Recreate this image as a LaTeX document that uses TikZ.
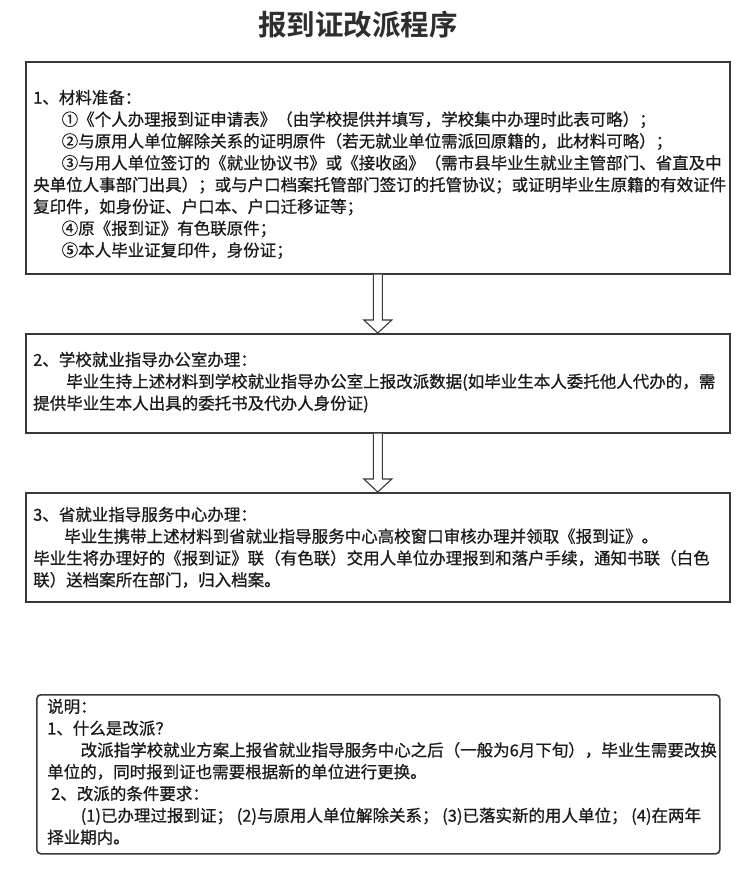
\documentclass[tikz,border=0pt]{standalone}
\usepackage{fontspec}
\setmainfont{Noto Sans CJK SC}[BoldFont={Noto Sans CJK SC Bold},UprightFeatures={FakeBold=0.7}]
\usetikzlibrary{calc}
\definecolor{ink}{HTML}{1A1A1A}
\definecolor{frame}{HTML}{383838}
\definecolor{titlec}{HTML}{2E2E2E}
\tikzset{
  box/.style={draw=frame, line width=1.6bp, fill=white, rectangle, inner sep=0pt},
  txt/.style={anchor=north west, inner sep=0pt, align=left, text=ink,
              font=\fontsize{16.5bp}{21.8bp}\selectfont},
  hollow/.style={draw=frame, line width=1.1bp, fill=white, line join=miter},
}
\newcommand{\ind}[1]{\hspace*{#1bp}}
\begin{document}
\begin{tikzpicture}[x=1bp,y=-1bp]
\useasboundingbox[fill=white] (0,0) rectangle (756,869);

\node[font=\fontsize{28.5bp}{30bp}\selectfont\bfseries, text=titlec, inner sep=0pt] (title) at (358,25) {报到证改派程序};

\node[box, minimum width=704bp, minimum height=212bp, anchor=north west] (b1) at (25,61) {};
\node[box, minimum width=704bp, minimum height=99bp, anchor=north west] (b2) at (25,333) {};
\node[box, minimum width=704bp, minimum height=109bp, anchor=north west] (b3) at (25,492) {};
\node[box, rounded corners=4bp, minimum width=683bp, minimum height=159bp, anchor=north west] (note) at (36,694) {};

\node[txt] (t1) at (33,89.6) {1、材料准备：\\
\ind{28.5}①《个人办理报到证申请表》（由学校提供并填写，学校集中办理时此表可略）；\\
\ind{28.5}②与原用人单位解除关系的证明原件（若无就业单位需派回原籍的，此材料可略）；\\
\ind{28.5}③与用人单位签订的《就业协议书》或《接收函》（需市县毕业生就业主管部门、省直及中\\
央单位人事部门出具）；或与户口档案托管部门签订的托管协议；或证明毕业生原籍的有效证件\\
复印件，如身份证、户口本、户口迁移证等；\\
\ind{28.5}④原《报到证》有色联原件；\\
\ind{28.5}⑤本人毕业证复印件，身份证；};

\node[txt] (t2) at (33,351.6) {2、学校就业指导办公室办理：\\
\ind{33}毕业生持上述材料到学校就业指导办公室上报改派数据(如毕业生本人委托他人代办的，需\\
提供毕业生本人出具的委托书及代办人身份证)};

\node[txt] (t3) at (33,506.6) {3、省就业指导服务中心办理：\\
\ind{31}毕业生携带上述材料到省就业指导服务中心高校窗口审核办理并领取《报到证》。\\
毕业生将办理好的《报到证》联（有色联）交用人单位办理报到和落户手续，通知书联（白色\\
联）送档案所在部门，归入档案。};

\node[txt] (t4) at (47,698.6) {说明：\\
1、什么是改派？\\
\ind{33.5}改派指学校就业方案上报省就业指导服务中心之后（一般为6月下旬），毕业生需要改换\\
单位的，同时报到证也需要根据新的单位进行更换。\\
\ind{4}2、改派的条件要求：\\
\ind{33.5}(1)已办理过报到证； (2)与原用人单位解除关系； (3)已落实新的用人单位； (4)在两年\\
择业期内。};

\draw[hollow] ($(b1.south)+(-4.5,0)$) -- ($(b2.north)+(-4.5,-13)$) -- ($(b2.north)+(-14,-13)$)
  -- (b2.north) -- ($(b2.north)+(14,-13)$) -- ($(b2.north)+(4.5,-13)$) -- ($(b1.south)+(4.5,0)$);
\draw[hollow] ($(b2.south)+(-4.5,0)$) -- ($(b3.north)+(-4.5,-13)$) -- ($(b3.north)+(-14,-13)$)
  -- (b3.north) -- ($(b3.north)+(14,-13)$) -- ($(b3.north)+(4.5,-13)$) -- ($(b2.south)+(4.5,0)$);
\end{tikzpicture}
\end{document}
